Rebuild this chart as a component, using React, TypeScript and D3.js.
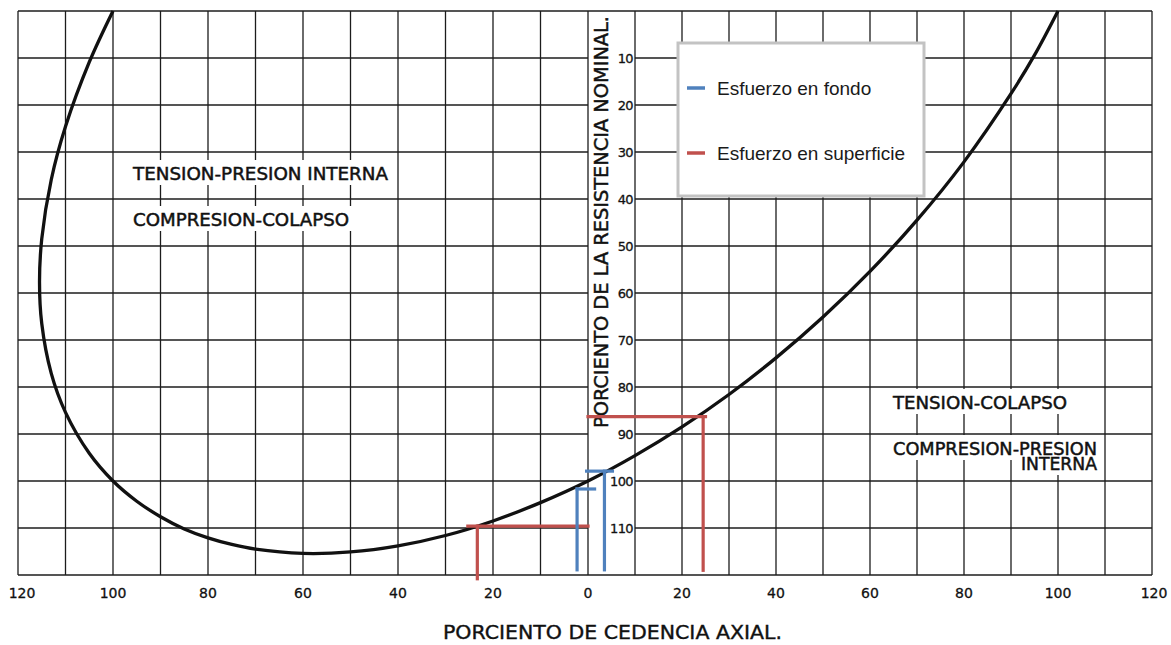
import { useRef, useEffect } from 'react'
import { select, scaleLinear, line, curveCatmullRom, range } from 'd3'

// ellipse points (x = % axial yield, y = % nominal collapse)
const curveX = [-100, -105, -110, -113, -115, -115.47, -115, -113, -110, -105, -100, -95, -90, -85, -80, -75, -70, -60, -50, -40, -30, -20, -10, 0, 10, 20, 30, 40, 50, 60, 70, 80, 90, 95, 100]
const curveY = [0, 10.9, 24.6, 35.9, 48.5, 57.7, 66.5, 77.1, 85.4, 94.1, 100, 104.3, 107.6, 110.2, 112.1, 113.5, 114.5, 115.4, 115.1, 113.8, 111.6, 108.5, 104.6, 100, 94.6, 88.5, 81.6, 73.8, 65.1, 55.4, 44.5, 32.1, 17.6, 9.4, 0]

const xTicks = [-120, -100, -80, -60, -40, -20, 0, 20, 40, 60, 80, 100, 120]
const yTicks = [10, 20, 30, 40, 50, 60, 70, 80, 90, 100, 110]

// [x1, y1, x2, y2] in chart units
const fondoSegments = [
  [-2.3, 101.7, 1.4, 101.7],
  [-2.3, 101.7, -2.3, 118.9],
  [-0.3, 97.9, 5.2, 97.9],
  [3.5, 97.9, 3.5, 118.9],
]
const superficieSegments = [
  [0, 86.3, 25, 86.3],
  [24.5, 86.3, 24.5, 119],
  [-25.3, 109.6, 0, 109.6],
  [-23.3, 109.6, -23.3, 120.8],
]

const seriesNames = ['Esfuerzo en fondo', 'Esfuerzo en superficie']
const seriesColors = ['#4f81bd', '#c0504d']

const W = 1171
const H = 645
const LETTER = '"DejaVu Sans", sans-serif'
const NARROW = '"DejaVu Sans Condensed", "DejaVu Sans", sans-serif'
const INK = '#111'

const App = () => {
  const svgRef = useRef(null)

  useEffect(() => {
    const svg = select(svgRef.current)
    svgRef.current.innerHTML = ''

    const x = scaleLinear().domain([-120, 0, 120]).range([18, 588, 1152])
    const y = scaleLinear().domain([0, 120]).range([11, 575])

    const grid = svg.append('g').attr('stroke', '#1c1c1c').attr('stroke-width', 1.3)
    // vertical grid
    grid.selectAll('.vl')
      .data(range(-120, 121, 10))
      .join('line')
      .attr('x1', d => x(d)).attr('x2', d => x(d))
      .attr('y1', y(0)).attr('y2', y(120))
    // horizontal grid, broken by the axis strip between 0 and 10
    range(0, 121, 10).forEach(v => {
      if (v === 0 || v === 120) {
        grid.append('line').attr('x1', x(-120)).attr('x2', x(120)).attr('y1', y(v)).attr('y2', y(v))
      } else {
        grid.append('line').attr('x1', x(-120)).attr('x2', x(0)).attr('y1', y(v)).attr('y2', y(v))
        grid.append('line').attr('x1', x(10)).attr('x2', x(120)).attr('y1', y(v)).attr('y2', y(v))
      }
    })

    // region labels with white patches behind them
    const notes = [
      { lines: ['TENSION-PRESION INTERNA'], x: 133, y: 180, lens: [255] },
      { lines: ['COMPRESION-COLAPSO'], x: 133, y: 226, lens: [216] },
      { lines: ['TENSION-COLAPSO'], x: 893, y: 409, lens: [174] },
      { lines: ['COMPRESION-PRESION', 'INTERNA'], x: 893, y: 455, lens: [204, 76], right: 1097 },
    ]
    const ng = svg.append('g')
    notes.forEach(n => {
      n.lines.forEach((t, i) => {
        const lx = i === 0 ? n.x : n.right - n.lens[i]
        ng.append('rect')
          .attr('x', lx - 5).attr('y', n.y + i * 15 - 20)
          .attr('width', n.lens[i] + 10).attr('height', 25)
          .attr('fill', '#fff')
      })
    })
    notes.forEach(n => {
      const t = ng.append('text')
        .attr('font-family', NARROW).attr('font-size', 18)
        .attr('fill', INK)
        .attr('stroke', INK).attr('stroke-width', 0.45)
      n.lines.forEach((s, i) => {
        t.append('tspan')
          .attr('x', i === 0 ? n.x : n.right - n.lens[i])
          .attr('y', n.y + i * 15)
          .attr('textLength', n.lens[i]).attr('lengthAdjust', 'spacingAndGlyphs')
          .text(s)
      })
    })

    // the ellipse
    const pts = curveX.map((v, i) => [v, curveY[i]])
    const path = line().x(d => x(d[0])).y(d => y(d[1])).curve(curveCatmullRom.alpha(0.5))
    svg.append('path')
      .attr('d', path(pts))
      .attr('fill', 'none')
      .attr('stroke', INK)
      .attr('stroke-width', 3.3)

    // y axis ticks inside the strip
    svg.selectAll('.ytick')
      .data(yTicks)
      .join('text')
      .attr('class', 'ytick')
      .attr('x', x(10) - 2)
      .attr('y', d => y(d))
      .attr('dy', '0.36em')
      .attr('text-anchor', 'end')
      .attr('font-family', LETTER)
      .attr('font-size', 13)
      .attr('letter-spacing', -0.6)
      .attr('fill', INK)
      .attr('stroke', INK).attr('stroke-width', 0.3)
      .text(d => d)

    svg.append('text')
      .attr('transform', `translate(608,222) rotate(-90)`)
      .attr('text-anchor', 'middle')
      .attr('font-family', NARROW)
      .attr('font-size', 20)
      .attr('textLength', 412).attr('lengthAdjust', 'spacingAndGlyphs')
      .attr('fill', INK)
      .attr('stroke', INK).attr('stroke-width', 0.45)
      .text('PORCIENTO DE LA RESISTENCIA NOMINAL.')

    // x axis labels
    svg.selectAll('.xtick')
      .data(xTicks)
      .join('text')
      .attr('class', 'xtick')
      .attr('x', d => x(d) + (d === -120 ? 4 : d === 120 ? 2 : 0))
      .attr('y', 598)
      .attr('text-anchor', 'middle')
      .attr('font-family', LETTER)
      .attr('font-size', 14)
      .attr('fill', INK)
      .attr('stroke', INK).attr('stroke-width', 0.3)
      .text(d => Math.abs(d))

    svg.append('text')
      .attr('x', 443).attr('y', 639)
      .attr('font-family', LETTER)
      .attr('font-size', 20)
      .attr('textLength', 339).attr('lengthAdjust', 'spacingAndGlyphs')
      .attr('fill', INK)
      .attr('stroke', INK).attr('stroke-width', 0.4)
      .text('PORCIENTO DE CEDENCIA AXIAL.')

    // red / blue brackets
    const drawSegs = (segs, color) => {
      svg.append('g').selectAll('line')
        .data(segs)
        .join('line')
        .attr('x1', d => x(d[0])).attr('y1', d => y(d[1]))
        .attr('x2', d => x(d[2])).attr('y2', d => y(d[3]))
        .attr('stroke', color)
        .attr('stroke-width', 3.2)
        .attr('stroke-linecap', 'square')
    }
    drawSegs(superficieSegments, seriesColors[1])
    drawSegs(fondoSegments, seriesColors[0])

    // legend
    const lg = svg.append('g')
    lg.append('rect')
      .attr('x', 678).attr('y', 43)
      .attr('width', 246).attr('height', 153)
      .attr('fill', '#fff')
      .attr('stroke', '#c3c3c3')
      .attr('stroke-width', 3)
    seriesNames.forEach((name, i) => {
      const ly = 88 + i * 65
      lg.append('line')
        .attr('x1', 687).attr('x2', 705)
        .attr('y1', ly).attr('y2', ly)
        .attr('stroke', seriesColors[i])
        .attr('stroke-width', 3.5)
      lg.append('text')
        .attr('x', 717).attr('y', ly + 6.5)
        .attr('font-family', '"Liberation Sans", Arial, sans-serif')
        .attr('font-size', 19)
        .attr('fill', '#1a1a1a')
        .text(name)
    })
  }, [])

  return (
    <svg
      ref={svgRef}
      width={W}
      height={H}
      style={{ position: 'fixed', left: 0, top: 0, background: '#fff' }}
    />
  )
}

export default App
